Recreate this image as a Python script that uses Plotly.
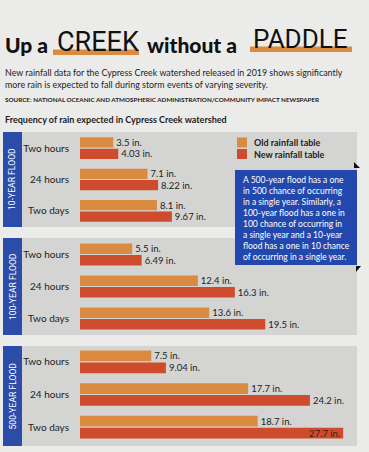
import plotly.graph_objects as go

# ---------------- data ----------------
durations = ["Two hours", "24 hours", "Two days"]
floods = ["10-YEAR FLOOD", "100-YEAR FLOOD", "500-YEAR FLOOD"]
old_table = [[3.5, 7.1, 8.1], [5.5, 12.4, 13.6], [7.5, 17.7, 18.7]]
new_table = [[4.03, 8.22, 9.67], [6.49, 16.3, 19.5], [9.04, 24.2, 27.7]]
series_names = ["Old rainfall table", "New rainfall table"]

title_parts = ["Up a", "CREEK", "without a", "PADDLE"]
subtitle_lines = ["New rainfall data for the Cypress Creek watershed released in 2019 shows significantly",
                  "more rain is expected to fall during storm events of varying severity."]
source = "SOURCE: NATIONAL OCEANIC AND ATMOSPHERIC ADMINISTRATION/COMMUNITY IMPACT NEWSPAPER"
chart_title = "Frequency of rain expected in Cypress Creek watershed"
note_lines = ["A 500-year flood has a one",
              "in 500 chance of occurring",
              "in a single year. Similarly, a",
              "100-year flood has a one in",
              "100 chance of occurring in",
              "a single year and a 10-year",
              "flood has a one in 10 chance",
              "of occurring in a single year."]

# ---------------- styling ----------------
W, H = 369, 452
def px(x): return x / W
def py(y): return 1 - y / H

OLD_C = "#da8b3f"
NEW_C = "#cf4b2d"
BLUE = "#2b4ca8"
BOX_BLUE = "#2248ad"
PANEL = "#d4d4d3"
PAGE = "#ebebea"
TXT = "#222222"
BODY_FONT = "Lato, Open Sans, sans-serif"
NARROW = "Roboto, Liberation Sans, sans-serif"

panels = [(132, 227), (238, 335), (346, 446)]
domains = [(132.5, 226.5), (238.5, 334.5), (345.5, 443.5)]
X0, X1 = 80, 357
SCALE = 9.5
XMAX = (X1 - X0) / SCALE

fig = go.Figure()
layout_axes = {}
for i in range(3):
    xa = "x" if i == 0 else f"x{i+1}"
    ya = "y" if i == 0 else f"y{i+1}"
    for vals, color, name in ((old_table[i], OLD_C, series_names[0]),
                              (new_table[i], NEW_C, series_names[1])):
        positions = ["inside" if v + 3.4 > XMAX else "outside" for v in vals]
        fig.add_trace(go.Bar(
            x=vals, y=durations, orientation="h", name=name,
            marker=dict(color=color, line=dict(width=0)),
            text=[f"{v:g} in." for v in vals],
            textposition=positions, insidetextanchor="end",
            textfont=dict(family=BODY_FONT, size=9.5, color=TXT),
            outsidetextfont=dict(family=BODY_FONT, size=9.5, color=TXT),
            insidetextfont=dict(family=BODY_FONT, size=9.5, color="#3a1c12"),
            constraintext="none", cliponaxis=False,
            xaxis=xa, yaxis=ya, showlegend=False, hoverinfo="skip"))
    sx = "" if i == 0 else str(i + 1)
    top, bot = domains[i]
    layout_axes[f"xaxis{sx}"] = dict(domain=[px(X0), px(X1)], range=[0, XMAX], visible=False,
                                     anchor=ya, fixedrange=True)
    layout_axes[f"yaxis{sx}"] = dict(domain=[py(bot), py(top)], type="category",
                                     categoryorder="array", categoryarray=durations,
                                     autorange="reversed", anchor=xa, ticks="",
                                     showgrid=False, zeroline=False, showline=False,
                                     ticklabelstandoff=10, fixedrange=True,
                                     tickfont=dict(family=BODY_FONT, size=10, color=TXT))

shapes = []
annotations = []

# panels and strips
for i, (t, b) in enumerate(panels):
    shapes.append(dict(type="rect", xref="paper", yref="paper", x0=px(3), x1=px(357),
                       y0=py(b), y1=py(t), fillcolor=PANEL, line=dict(width=0), layer="below"))
    shapes.append(dict(type="rect", xref="paper", yref="paper", x0=px(3), x1=px(22),
                       y0=py(b), y1=py(t), fillcolor=BLUE, line=dict(width=0), layer="below"))
    annotations.append(dict(xref="paper", yref="paper", x=px(12.5), y=py((t + b) / 2),
                            text=floods[i], textangle=-90, showarrow=False,
                            font=dict(family=NARROW, size=8.6, color="white"),
                            xanchor="center", yanchor="middle"))

# legend
for j, (name, color) in enumerate(zip(series_names, [OLD_C, NEW_C])):
    yc = 142.5 + j * 11.5
    shapes.append(dict(type="rect", xref="paper", yref="paper", x0=px(237), x1=px(247),
                       y0=py(yc + 5), y1=py(yc - 5), fillcolor=color, line=dict(width=0)))
    annotations.append(dict(xref="paper", yref="paper", x=px(252), y=py(yc), text=f"<b>{name}</b>",
                            showarrow=False, xanchor="left", yanchor="middle",
                            font=dict(family=BODY_FONT, size=9, color=TXT)))

# note box
shapes.append(dict(type="path", xref="paper", yref="paper",
                   path=f"M {px(354)} {py(162)} L {px(360)} {py(168)} L {px(354)} {py(168)} Z",
                   fillcolor="#111", line=dict(width=0)))
shapes.append(dict(type="path", xref="paper", yref="paper",
                   path=f"M {px(356)} {py(266)} L {px(361)} {py(266)} L {px(356)} {py(272)} Z",
                   fillcolor="#111", line=dict(width=0)))
shapes.append(dict(type="rect", xref="paper", yref="paper", x0=px(235), x1=px(357),
                   y0=py(265), y1=py(170), fillcolor=BOX_BLUE, line=dict(width=0)))
annotations.append(dict(xref="paper", yref="paper", x=px(241), y=py(218),
                        text="<br>".join(note_lines), align="left", showarrow=False,
                        xanchor="left", yanchor="middle",
                        font=dict(family=BODY_FONT, size=8.5, color="white")))

# title
shapes.append(dict(type="rect", xref="paper", yref="paper", x0=px(53), x1=px(139),
                   y0=py(55), y1=py(49.5), fillcolor=OLD_C, line=dict(width=0)))
shapes.append(dict(type="rect", xref="paper", yref="paper", x0=px(250), x1=px(352),
                   y0=py(52), y1=py(46.5), fillcolor=OLD_C, line=dict(width=0)))
annotations.append(dict(xref="paper", yref="paper", x=px(3), y=py(44), text=title_parts[0],
                        showarrow=False, xanchor="left", yanchor="middle",
                        font=dict(family="Lato", size=21, color="#111", weight=900)))
annotations.append(dict(xref="paper", yref="paper", x=px(55), y=py(41.5), text=title_parts[1],
                        showarrow=False, xanchor="left", yanchor="middle",
                        font=dict(family=NARROW, size=27, color="#111")))
annotations.append(dict(xref="paper", yref="paper", x=px(145), y=py(44), text=title_parts[2],
                        showarrow=False, xanchor="left", yanchor="middle",
                        font=dict(family="Lato", size=21, color="#111", weight=900)))
annotations.append(dict(xref="paper", yref="paper", x=px(251), y=py(38.5), text=title_parts[3],
                        showarrow=False, xanchor="left", yanchor="middle",
                        font=dict(family=NARROW, size=26, color="#111")))

for k, line in enumerate(subtitle_lines):
    annotations.append(dict(xref="paper", yref="paper", x=px(3), y=py(72 + 12 * k), text=line,
                            align="left", showarrow=False, xanchor="left", yanchor="middle",
                            font=dict(family=BODY_FONT, size=8.9, color=TXT)))
annotations.append(dict(xref="paper", yref="paper", x=px(3), y=py(99), text=source,
                        showarrow=False, xanchor="left", yanchor="middle",
                        font=dict(family=BODY_FONT, size=6.3, color=TXT, weight=700)))
annotations.append(dict(xref="paper", yref="paper", x=px(3), y=py(120), text=f"<b>{chart_title}</b>",
                        showarrow=False, xanchor="left", yanchor="middle",
                        font=dict(family=BODY_FONT, size=9.0, color=TXT)))

fig.update_layout(
    width=W, height=H, margin=dict(l=0, r=0, t=0, b=0),
    paper_bgcolor=PAGE, plot_bgcolor="rgba(0,0,0,0)",
    barmode="group", bargap=0.27, bargroupgap=0.1,
    shapes=shapes, annotations=annotations, showlegend=False,
    **layout_axes)

fig.write_html("out.html", config={"displayModeBar": False},
               post_script="document.body.style.margin='0';document.body.style.padding='0';"
                           "document.body.style.background='" + PAGE + "';")
